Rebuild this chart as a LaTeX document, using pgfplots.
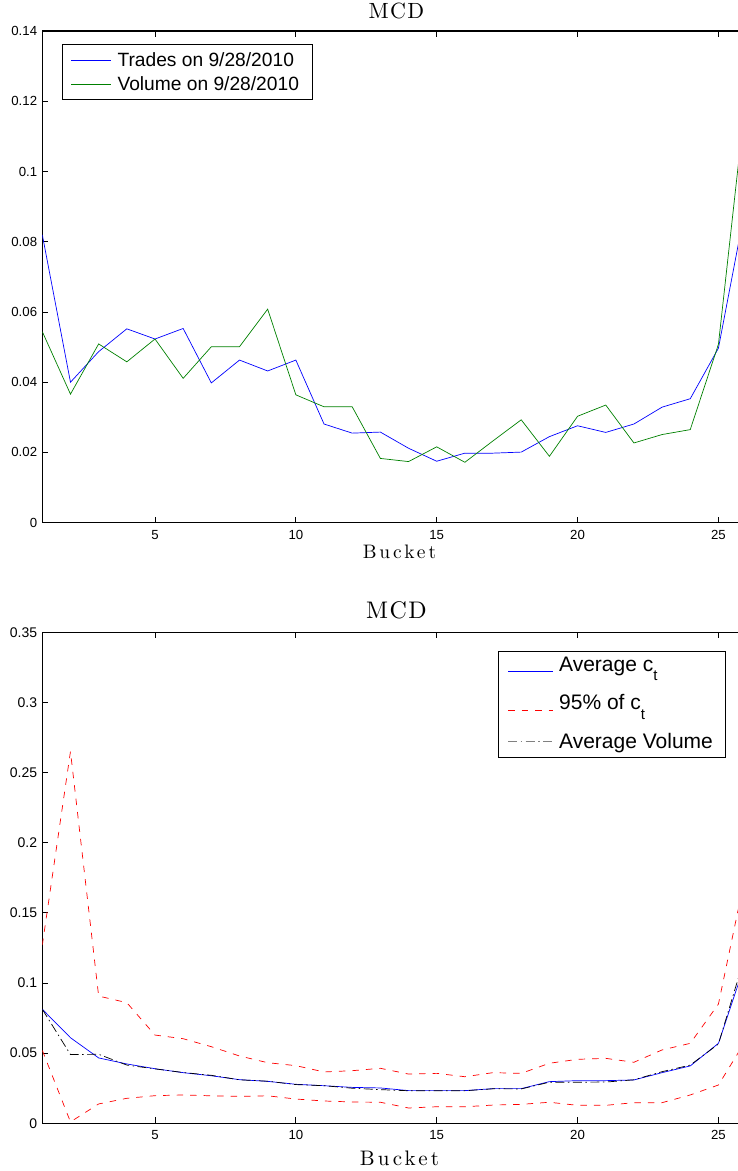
\documentclass[border=0pt]{standalone}
\usepackage{pgfplots}
\usepackage{pgfplotstable}
\pgfplotsset{compat=1.18}
\usepackage{fontspec}
\newfontfamily\arial{Liberation Sans}
\newfontfamily\lmtitle{lmroman10-regular.otf}[LetterSpace=6]
\newfontfamily\lmlabel{lmroman10-regular.otf}[LetterSpace=15]

\pgfplotstableread{
x trades volume
1 0.0820 0.0544
2 0.0400 0.0366
3 0.0487 0.0509
4 0.0552 0.0458
5 0.0523 0.0523
6 0.0553 0.0411
7 0.0398 0.0501
8 0.0463 0.0501
9 0.0432 0.0608
10 0.0463 0.0364
11 0.0281 0.0330
12 0.0255 0.0330
13 0.0258 0.0183
14 0.0212 0.0174
15 0.0175 0.0216
16 0.0198 0.0172
17 0.0198 0.0233
18 0.0201 0.0293
19 0.0245 0.0189
20 0.0276 0.0303
21 0.0257 0.0335
22 0.0281 0.0227
23 0.0329 0.0251
24 0.0353 0.0265
25 0.0497 0.0508
26 0.0916 0.1233
}\toptable

\pgfplotstableread{
x avg up lo vol
1 0.0813 0.127 0.052 0.0813
2 0.0610 0.265 0.001 0.0490
3 0.0466 0.0907 0.0138 0.0492
4 0.0423 0.0860 0.0178 0.0415
5 0.0389 0.0629 0.0197 0.0388
6 0.0361 0.0603 0.0202 0.0362
7 0.0339 0.0546 0.0196 0.0342
8 0.0311 0.0480 0.0192 0.0310
9 0.0299 0.0432 0.0196 0.0300
10 0.0278 0.0411 0.0173 0.0276
11 0.0268 0.0366 0.0159 0.0268
12 0.0256 0.0375 0.0152 0.0250
13 0.0252 0.0392 0.0150 0.0240
14 0.0233 0.0351 0.0109 0.0232
15 0.0233 0.0356 0.0118 0.0232
16 0.0233 0.0332 0.0118 0.0232
17 0.0247 0.0361 0.0130 0.0246
18 0.0247 0.0356 0.0135 0.0245
19 0.0297 0.0428 0.0150 0.0293
20 0.0304 0.0456 0.0128 0.0293
21 0.0304 0.0463 0.0128 0.0294
22 0.0309 0.0435 0.0147 0.0310
23 0.0361 0.0523 0.0147 0.0368
24 0.0409 0.0570 0.0202 0.0415
25 0.0570 0.0850 0.0273 0.0565
26 0.1170 0.1810 0.0600 0.1230
}\bottable

\definecolor{mgreen}{rgb}{0,0.5,0}

\pgfplotsset{
  limgA/.style={legend image code/.code={\draw[##1] (0pt,-0.2pt) -- (40pt,-0.2pt);}},
  limgB/.style={legend image code/.code={\draw[##1] (0pt,-5.75pt) -- (45pt,-5.75pt);}},
  limgC/.style={legend image code/.code={\draw[##1, gray] (0pt,1.25pt) -- (45pt,1.25pt);}},
  mystyle/.style={
    scale only axis,
    anchor=south west,
    width=704.3pt,
    xmin=1, xmax=26, ymin=0,
    xtick={5,10,15,20,25},
    xticklabels={5,10,15,20,25},
    major tick length=6pt,
    every tick/.style={black, line width=0.8pt},
    axis line style={black, line width=1.2pt},
    xticklabel style={font=\arial\fontsize{13.2}{13.2}\selectfont, anchor=base, yshift=-16.6pt},
    yticklabel style={anchor=east, inner sep=0pt, xshift=-5pt},
    title style={at={(axis description cs:0.5,1)}, anchor=base},
    xlabel style={at={(axis description cs:0.5,0)}, anchor=base},
    legend cell align=left,
  }
}

\begin{document}
\begin{tikzpicture}
\path[use as bounding box] (0pt,0pt) rectangle (738pt,1171pt);
\begin{axis}[
  mystyle,
  at={(42.3pt,648.3pt)},
  height=491.7pt,
  ymax=0.14,
  ytick={0,0.02,0.04,0.06,0.08,0.1,0.12,0.14},
  yticklabels={0,0.02,0.04,0.06,0.08,0.1,0.12,0.14},
  yticklabel style={font=\arial\fontsize{13.2}{13.2}\selectfont},
  title={\lmtitle\fontsize{22}{22}\selectfont MCD},
  title style={yshift=6pt, xshift=2pt},
  xlabel={\lmlabel\fontsize{19.5}{19.5}\selectfont Bucket},
  xlabel style={yshift=-36pt, xshift=5pt},
  legend style={
    at={(0.0284,0.973)}, anchor=north west,
    draw=black, line width=0.8pt,
    font=\arial\fontsize{19.2}{19.2}\selectfont,
    inner xsep=8.4pt, inner ysep=7.7pt,
    row sep=8.4pt,
    nodes={inner sep=0pt, text height=14pt, text depth=1.6pt},
    /tikz/every odd column/.append style={column sep=5.7pt},
  },
]
\addplot[blue, line width=0.7pt, limgA] table[x=x, y=trades] {\toptable};
\addlegendentry{Trades on 9/28/2010\hspace*{5.2pt}}
\addplot[mgreen, line width=0.7pt, limgA] table[x=x, y=volume] {\toptable};
\addlegendentry{Volume on 9/28/2010\hspace*{5.2pt}}
\end{axis}

\begin{axis}[
  mystyle,
  at={(42.3pt,47.7pt)},
  height=491pt,
  ymax=0.35,
  ytick={0,0.05,0.1,0.15,0.2,0.25,0.3,0.35},
  yticklabels={0,0.05,0.1,0.15,0.2,0.25,0.3,0.35},
  yticklabel style={font=\arial\fontsize{14}{14}\selectfont},
  title={\lmtitle\fontsize{24}{24}\selectfont MCD},
  title style={yshift=7.3pt, xshift=2pt},
  xlabel={\lmlabel\fontsize{21}{21}\selectfont Bucket},
  xlabel style={yshift=-41.7pt, xshift=5pt},
  legend style={
    at={(0.9703,0.9625)}, anchor=north east,
    draw=black, line width=0.8pt,
    font=\arial\fontsize{21}{21}\selectfont,
    inner xsep=9.4pt, inner ysep=4.5pt,
    row sep=19.3pt,
    nodes={inner sep=0pt, text height=15.5pt, text depth=4pt},
    /tikz/every odd column/.append style={column sep=5.6pt},
  },
]
\addplot[blue, line width=0.7pt, limgB] table[x=x, y=avg] {\bottable};
\addlegendentry{Average c\raisebox{-9.3pt}{\fontsize{15}{15}\selectfont t}}
\addplot[red, line width=0.7pt, dash pattern=on 6.5pt off 7pt, limgB] table[x=x, y=up] {\bottable};
\addlegendentry{95\% of c\raisebox{-9.3pt}{\fontsize{15}{15}\selectfont t}}
\addplot[black, line width=0.7pt, dash pattern=on 9pt off 3.5pt on 1.5pt off 3.5pt, limgC] table[x=x, y=vol] {\bottable};
\addlegendentry{Average Volume\hspace*{3pt}}
\addplot[red, line width=0.7pt, dash pattern=on 6.5pt off 7pt, forget plot] table[x=x, y=lo] {\bottable};
\end{axis}
\end{tikzpicture}
\end{document}
